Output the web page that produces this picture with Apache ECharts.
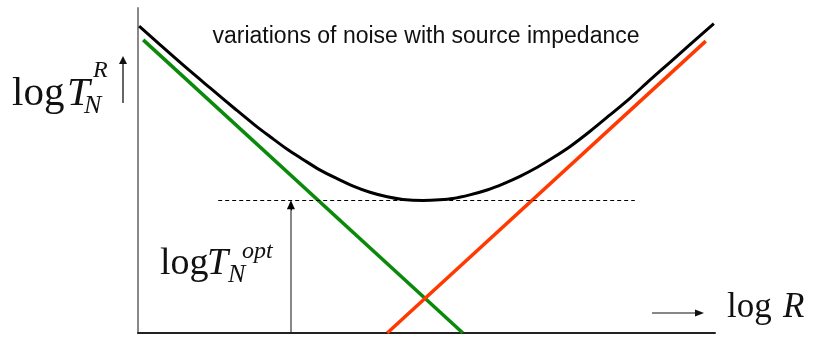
<!DOCTYPE html>
<html>
<head>
<meta charset="utf-8">
<script src="https://cdn.jsdelivr.net/npm/echarts@6/dist/echarts.min.js"></script>
<style>
  html, body { margin: 0; padding: 0; background: #fff; }
  #chart { width: 813px; height: 337px; }
</style>
</head>
<body>
<div id="chart"></div>
<script>
// Axis coordinates are in arbitrary log units: x = log R, y = log T (0..100 each)
const curveX = [0.2, 3.8, 8.3, 12.5, 17.0, 20.3, 22.9, 25.8, 28.6, 31.5, 34.5, 37.3, 40.2, 43.2, 45.9, 49.4,
                52.3, 54.6, 57.5, 60.5, 63.3, 66.2, 69.2, 71.9, 74.9, 78.3, 81.8, 85.3, 88.7, 92.2, 95.7, 99.8];
const curveY = [94.4, 88.7, 81.7, 75.4, 68.7, 63.9, 60.4, 56.6, 53.4, 50.2, 47.5, 45.2, 43.3, 41.9, 41.1, 40.8,
                41.0, 41.4, 42.5, 44.0, 45.9, 48.2, 51.0, 53.9, 57.4, 62.0, 67.1, 72.3, 77.8, 83.3, 88.8, 95.2];
const greenX = [0.9, 56.3];
const greenY = [90.2, 0];
const redX = [43.2, 98.4];
const redY = [0, 89.8];
const optLevel = 40.7;              // minimum of the total noise curve
const optSpan = [13.9, 86.1];       // extent of the dashed reference line
const optArrowX = 26.5;
const optArrowFrom = 0.3;

const zip = (xs, ys) => xs.map((x, i) => [x, ys[i]]);

const chart = echarts.init(document.getElementById('chart'), null, { renderer: 'canvas' });

const serif = '"Liberation Serif", "Times New Roman", serif';
const sans = '"Liberation Sans", Arial, sans-serif';

function txt(text, x, y, size, italic) {
  return {
    type: 'text',
    z: 100,
    style: {
      text: text, x: x, y: y,
      font: (italic ? 'italic ' : '') + size + 'px ' + serif,
      fill: '#111',
      textVerticalAlign: 'middle'
    }
  };
}

chart.setOption({
  animation: false,
  backgroundColor: '#ffffff',
  grid: { left: 138, right: 98, top: 8, bottom: 4, containLabel: false },
  xAxis: {
    type: 'value', min: 0, max: 100,
    axisLine: { show: true, onZero: false, lineStyle: { color: '#222', width: 2 } },
    axisTick: { show: false }, axisLabel: { show: false }, splitLine: { show: false }
  },
  yAxis: {
    type: 'value', min: 0, max: 100,
    axisLine: { show: true, onZero: false, lineStyle: { color: '#888', width: 2 } },
    axisTick: { show: false }, axisLabel: { show: false }, splitLine: { show: false }
  },
  series: [
    {
      name: 'green', type: 'line', data: zip(greenX, greenY),
      showSymbol: false, lineStyle: { color: '#0a8a0a', width: 3.5 }, z: 3
    },
    {
      name: 'red', type: 'line', data: zip(redX, redY),
      showSymbol: false, lineStyle: { color: '#ff3a00', width: 3.5 }, z: 3
    },
    {
      name: 'total', type: 'line', data: zip(curveX, curveY),
      smooth: 0.3, showSymbol: false, lineStyle: { color: '#000', width: 3 }, z: 4,
      markLine: {
        silent: true, symbol: ['none', 'none'], label: { show: false },
        data: [
          [
            { coord: [optSpan[0], optLevel], lineStyle: { color: '#000', width: 1, type: [4, 3] } },
            { coord: [optSpan[1], optLevel] }
          ],
          [
            { coord: [optArrowX, optArrowFrom], lineStyle: { color: '#888', width: 2, type: 'solid' } },
            { coord: [optArrowX, optLevel - 1.5] }
          ],
          [
            { coord: [optArrowX, optLevel - 3], symbol: 'none', lineStyle: { color: '#000', width: 1, type: 'solid' } },
            { coord: [optArrowX, optLevel - 1.2], symbol: 'triangle', symbolSize: [8, 9] }
          ]
        ]
      }
    }
  ],
  graphic: [
    // title
    {
      type: 'text', z: 100,
      style: { text: 'variations of noise with source impedance', x: 426, y: 37,
        font: '23px ' + sans, fill: '#111', textAlign: 'center', textVerticalAlign: 'middle' }
    },
    // log T_N^R
    txt('log', 12, 94, 41),
    txt('T', 67, 94, 41, true),
    txt('R', 93, 71, 24, true),
    txt('N', 84, 106, 26, true),
    // small up arrow next to the y label
    { type: 'line', z: 100, shape: { x1: 123, y1: 103, x2: 123, y2: 62 }, style: { stroke: '#333', lineWidth: 1.5 } },
    { type: 'polygon', z: 100, shape: { points: [[119, 64], [127, 64], [123, 56]] }, style: { fill: '#111' } },
    // log T_N^opt
    txt('log', 160, 264, 38),
    txt('T', 207, 264, 38, true),
    txt('opt', 242, 252, 24, true),
    txt('N', 228, 275, 26, true),
    // → log R
    { type: 'line', z: 100, shape: { x1: 652, y1: 313, x2: 697, y2: 313 }, style: { stroke: '#111', lineWidth: 1.2 } },
    { type: 'polygon', z: 100, shape: { points: [[695, 309.5], [695, 316.5], [704, 313]] }, style: { fill: '#111' } },
    txt('log', 727, 308, 35),
    txt('R', 783, 308, 35, true)
  ]
});
</script>
</body>
</html>
